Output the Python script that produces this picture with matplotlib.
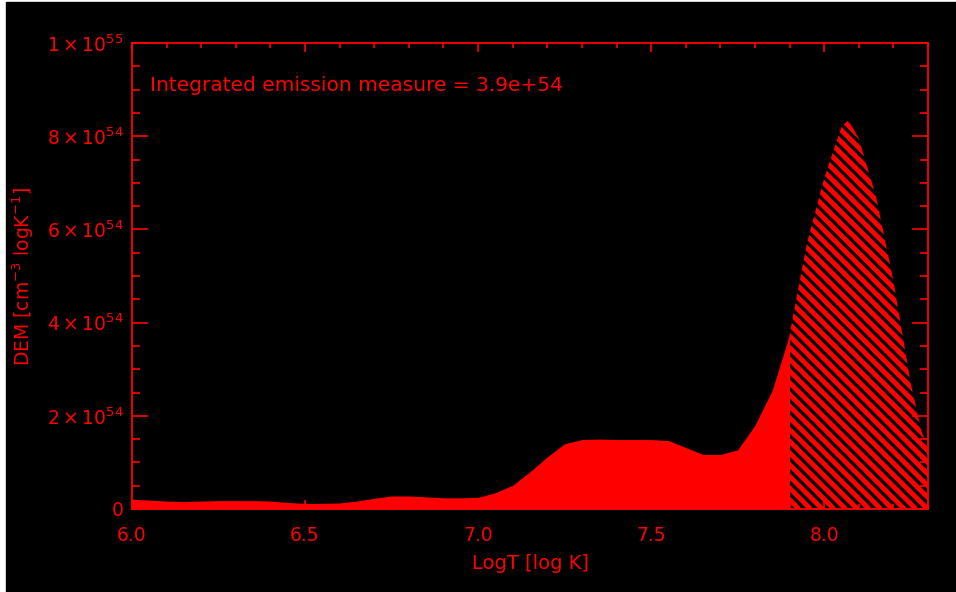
import numpy as np
import matplotlib
matplotlib.use("Agg")
import matplotlib.pyplot as plt
from matplotlib.patches import Rectangle
from matplotlib.collections import LineCollection
from matplotlib.ticker import MultipleLocator

plt.rcParams['font.family'] = ['DejaVu Sans']
plt.rcParams['mathtext.fontset'] = 'dejavusans'
plt.rcParams['mathtext.default'] = 'regular'

# DEM curve (log T, DEM in 1e54 cm^-3 logK^-1)
logt = [6.00, 6.05, 6.10, 6.15, 6.20, 6.25, 6.30, 6.35, 6.40, 6.45,
        6.50, 6.55, 6.60, 6.65, 6.70, 6.75, 6.80, 6.85, 6.90, 6.95,
        7.00, 7.05, 7.10, 7.15, 7.20, 7.25, 7.30, 7.35, 7.40, 7.45,
        7.50, 7.55, 7.60, 7.65, 7.70, 7.75, 7.80, 7.85, 7.90,
        7.95, 8.00, 8.05, 8.07, 8.10, 8.15, 8.20, 8.25, 8.28, 8.30]
dem = [0.21, 0.19, 0.17, 0.16, 0.17, 0.18, 0.18, 0.18, 0.17, 0.14,
       0.12, 0.12, 0.13, 0.17, 0.23, 0.28, 0.28, 0.26, 0.24, 0.24,
       0.25, 0.35, 0.51, 0.80, 1.12, 1.40, 1.49, 1.50, 1.49, 1.49,
       1.49, 1.47, 1.32, 1.17, 1.17, 1.27, 1.80, 2.55, 3.75,
       5.70, 7.10, 8.20, 8.35, 7.95, 6.70, 4.90, 2.70, 1.70, 1.30]
hatch_from = 7.9

ytick_vals = [0, 2e54, 4e54, 6e54, 8e54, 1e55]
ytick_labels = ['0', r'$2\times10^{54}$', r'$4\times10^{54}$',
                r'$6\times10^{54}$', r'$8\times10^{54}$', r'$1\times10^{55}$']
xtick_vals = [6.0, 6.5, 7.0, 7.5, 8.0]
note = 'Integrated emission measure = 3.9e+54'

RED = '#ff0000'
W, H = 956, 592
fig = plt.figure(figsize=(W / 100, H / 100), dpi=100, facecolor='white')
# black canvas with thin white strip on left and top
fig.patches.append(Rectangle((6 / W, 0), 1 - 6 / W, 1 - 2 / H,
                             transform=fig.transFigure, color='black', zorder=-10))

ax_l, ax_r, ax_t, ax_b = 132, 928, 43, 509
ax = fig.add_axes([ax_l / W, (H - ax_b) / H, (ax_r - ax_l) / W, (ax_b - ax_t) / H])
ax.set_facecolor('black')

x = np.array(logt)
y = np.array(dem) * 1e54
solid = x <= hatch_from
ax.fill_between(x[solid], 0, y[solid], color=RED, lw=0, zorder=1)
hx = x[x >= hatch_from]
hy = y[x >= hatch_from]
poly = ax.fill_between(hx, 0, hy, color='black', lw=0, zorder=1)

# diagonal "\" hatching, ~45 deg in pixels, clipped to the hatched region
pw, ph = ax_r - ax_l, ax_b - ax_t
step = 11.7
segs = []
for c in np.arange(0, pw + ph + step, step):
    segs.append([((c - ph) / pw, 1.0), (c / pw, 0.0)])
lc = LineCollection(segs, colors=RED, linewidths=3.6, transform=ax.transAxes,
                    zorder=2, capstyle='butt')
lc.set_clip_path(poly.get_paths()[0], poly.get_transform())
ax.add_collection(lc)

ax.set_xlim(6.0, 8.3)
ax.set_ylim(0, 1e55)
ax.set_xticks(xtick_vals)
ax.set_xticklabels(['%.1f' % v for v in xtick_vals])
ax.xaxis.set_minor_locator(MultipleLocator(0.1))
ax.set_yticks(ytick_vals)
ax.set_yticklabels(ytick_labels)
ax.yaxis.set_minor_locator(MultipleLocator(0.5e54))

for s in ax.spines.values():
    s.set_color(RED)
    s.set_linewidth(1.3)
    s.set_zorder(5)
ax.tick_params(axis='both', which='both', direction='in', colors=RED,
               top=True, right=True, width=1.2, labelsize=13.5)
ax.tick_params(axis='x', which='major', length=6.7, pad=12)
ax.tick_params(axis='x', which='minor', length=3.4)
ax.tick_params(axis='y', which='major', length=11.5, pad=6)
ax.tick_params(axis='y', which='minor', length=5.7)

ax.set_xlabel('LogT [log K]', color=RED, fontsize=14, labelpad=7)
ax.set_ylabel(r'DEM [cm$^{-3}$ logK$^{-1}$]', color=RED, fontsize=13.5, labelpad=8)
ax.text(0.0226, 0.897, note, transform=ax.transAxes, color=RED,
        fontsize=14.5, va='baseline', ha='left')

fig.savefig('out.png', dpi=100, facecolor=fig.get_facecolor())
